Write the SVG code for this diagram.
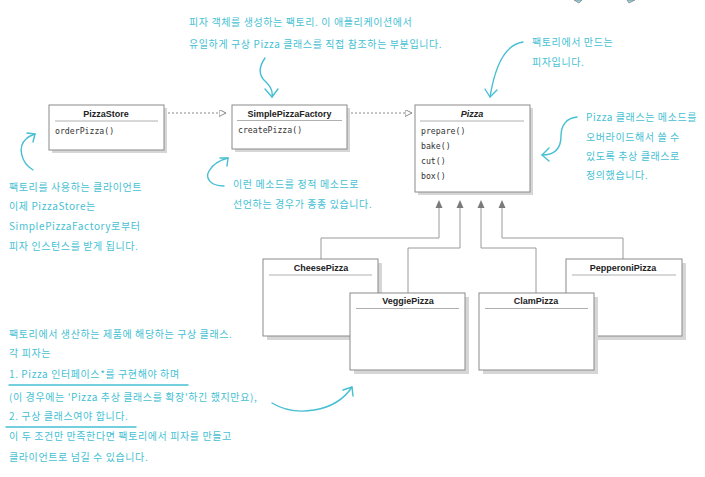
<svg xmlns="http://www.w3.org/2000/svg" width="705" height="477" viewBox="0 0 705 477">
<defs>
<style>
.box{fill:#fff;stroke:#8a8a8a;stroke-width:1}
.shadow{fill:#d6d6d6}
.sep{stroke:#b0b0b0;stroke-width:1}
.title{font-family:"Liberation Sans",Arial,sans-serif;font-size:9px;font-weight:bold;fill:#222;text-anchor:middle}
.method{font-family:"DejaVu Sans Mono","Liberation Mono",monospace;font-size:8.2px;fill:#333}
.note{font-family:"Noto Sans CJK KR","Noto Sans",sans-serif;font-size:10px;letter-spacing:0.6px;fill:#46bfd3}
.hand{fill:none;stroke:#46bfd3;stroke-width:1.4;stroke-linecap:round;stroke-linejoin:round}
.gen{fill:none;stroke:#9a9a9a;stroke-width:1}
.dep{fill:none;stroke:#8a8a8a;stroke-width:1;stroke-dasharray:2,2}
</style>
<marker id="tri" viewBox="0 0 10 10" refX="10" refY="5" markerWidth="7" markerHeight="7" orient="auto" markerUnits="userSpaceOnUse">
<path d="M0,0 L10,5 L0,10 Z" fill="#fff" stroke="#8a8a8a" stroke-width="1.4"/>
</marker>
</defs>
<rect width="705" height="477" fill="#fff"/>

<g id="corner-marks">
<polygon points="574,0 582,0 579,3" fill="#8fd6e3" stroke="#888" stroke-width="0.8"/>
<polygon points="627,0 635,0 629,3" fill="#8fd6e3" stroke="#888" stroke-width="0.8"/>
</g>

<g id="connectors">
<path class="dep" d="M164,113 L226,113" marker-end="url(#tri)"/>
<path class="dep" d="M347,113 L412,113" marker-end="url(#tri)"/>
<path class="gen" d="M439,207 V238 H321 V259"/>
<path class="gen" d="M460,207 V248 H408 V293"/>
<path class="gen" d="M481,207 V248 H536 V293"/>
<path class="gen" d="M502,207 V238 H623 V259"/>
<polygon points="439,200 435.5,208 442.5,208" fill="#7a7a7a"/>
<polygon points="460,200 456.5,208 463.5,208" fill="#7a7a7a"/>
<polygon points="481,200 477.5,208 484.5,208" fill="#7a7a7a"/>
<polygon points="502,200 498.5,208 505.5,208" fill="#7a7a7a"/>
</g>

<g id="PizzaStore">
<rect class="shadow" x="52" y="108" width="115" height="45"/>
<rect class="box" x="49" y="105" width="115" height="45"/>
<text class="title" x="106" y="117">PizzaStore</text>
<line class="sep" x1="55" y1="121" x2="158" y2="121"/>
<text class="method" x="55" y="134">orderPizza()</text>
</g>

<g id="SimplePizzaFactory">
<rect class="shadow" x="235" y="108" width="115" height="44"/>
<rect class="box" x="232" y="105" width="115" height="44"/>
<text class="title" x="289.5" y="117" textLength="84" lengthAdjust="spacingAndGlyphs">SimplePizzaFactory</text>
<line class="sep" x1="237" y1="120.5" x2="342" y2="120.5"/>
<text class="method" x="238" y="133">createPizza()</text>
</g>

<g id="Pizza">
<rect class="shadow" x="418" y="108" width="115" height="87"/>
<rect class="box" x="415" y="105" width="115" height="87"/>
<text class="title" x="472" y="117" font-style="italic">Pizza</text>
<line class="sep" x1="420" y1="121" x2="524" y2="121"/>
<text class="method" x="421" y="134">prepare()</text>
<text class="method" x="421" y="149">bake()</text>
<text class="method" x="421" y="164">cut()</text>
<text class="method" x="421" y="179">box()</text>
</g>

<g id="CheesePizza">
<rect class="shadow" x="267" y="263" width="115" height="77"/>
<rect class="box" x="263" y="259" width="115" height="77"/>
<text class="title" x="321" y="271">CheesePizza</text>
<line class="sep" x1="269" y1="275" x2="372" y2="275"/>
</g>

<g id="PepperoniPizza">
<rect class="shadow" x="570" y="263" width="116" height="77"/>
<rect class="box" x="566" y="259" width="116" height="77"/>
<text class="title" x="623" y="271">PepperoniPizza</text>
<line class="sep" x1="572" y1="275" x2="676" y2="275"/>
</g>

<g id="VeggiePizza">
<rect class="shadow" x="354" y="297" width="115" height="77"/>
<rect class="box" x="350" y="293" width="115" height="77"/>
<text class="title" x="408" y="304">VeggiePizza</text>
<line class="sep" x1="356" y1="308.5" x2="459" y2="308.5"/>
</g>

<g id="ClamPizza">
<rect class="shadow" x="483" y="297" width="115" height="77"/>
<rect class="box" x="479" y="293" width="115" height="77"/>
<text class="title" x="536" y="304">ClamPizza</text>
<line class="sep" x1="485" y1="308.5" x2="588" y2="308.5"/>
</g>

<g id="note-top">
<text class="note" x="189" y="26">피자 객체를 생성하는 팩토리. 이 애플리케이션에서</text>
<text class="note" x="189" y="48">유일하게 구상 Pizza 클래스를 직접 참조하는 부분입니다.</text>
<path class="hand" d="M265,58 C258,68 259,76 266,82 C271,87 273,92 272,97"/>
<path class="hand" d="M265,89 L272,97 L278,89"/>
</g>

<g id="note-top-right">
<text class="note" x="532" y="46">팩토리에서 만드는</text>
<text class="note" x="532" y="66">피자입니다.</text>
<path class="hand" d="M523,42 C508,44 496,60 490,97"/>
<path class="hand" d="M485,89 L490,97 L497,90"/>
</g>

<g id="note-right">
<text class="note" x="586" y="121">Pizza 클래스는 메소드를</text>
<text class="note" x="586" y="141">오버라이드해서 쓸 수</text>
<text class="note" x="586" y="160">있도록 추상 클래스로</text>
<text class="note" x="586" y="179">정의했습니다.</text>
<path class="hand" d="M577,117 C566,118 561,126 561,136 C561,148 555,155 542,155"/>
<path class="hand" d="M549,148 L542,155 L549,161"/>
</g>

<g id="note-left">
<text class="note" x="9" y="191">팩토리를 사용하는 클라이언트</text>
<text class="note" x="9" y="210">이제 PizzaStore는</text>
<text class="note" x="9" y="230">SimplePizzaFactory로부터</text>
<text class="note" x="9" y="250">피자 인스턴스를 받게 됩니다.</text>
<path class="hand" d="M33,170 C20,162 18,146 26,139 C29,136 32,135 35,134"/>
<path class="hand" d="M27,133 L35,134 L33,142"/>
</g>

<g id="note-middle">
<text class="note" x="233" y="188">이런 메소드를 정적 메소드로</text>
<text class="note" x="233" y="208">선언하는 경우가 종종 있습니다.</text>
<path class="hand" d="M224,186 C210,186 205,178 209,171 C213,164 220,160 228,158"/>
<path class="hand" d="M220,158 L228,158 L227,166"/>
</g>

<g id="note-bottom">
<text class="note" x="9" y="338">팩토리에서 생산하는 제품에 해당하는 구상 클래스.</text>
<text class="note" x="9" y="357">각 피자는</text>
<text class="note" x="9" y="378">1. Pizza 인터페이스*를 구현해야 하며</text>
<line class="hand" x1="9" y1="385" x2="188" y2="385" stroke-width="1"/>
<text class="note" x="9" y="401">(이 경우에는 'Pizza 추상 클래스를 확장'하긴 했지만요),</text>
<text class="note" x="9" y="420">2. 구상 클래스여야 합니다.</text>
<line class="hand" x1="6" y1="427" x2="136" y2="427" stroke-width="1"/>
<text class="note" x="9" y="440">이 두 조건만 만족한다면 팩토리에서 피자를 만들고</text>
<text class="note" x="9" y="461">클라이언트로 넘길 수 있습니다.</text>
<path class="hand" d="M272,403 C295,417 335,413 352,387"/>
<path class="hand" d="M343,390 L352,387 L353,396"/>
</g>
</svg>
